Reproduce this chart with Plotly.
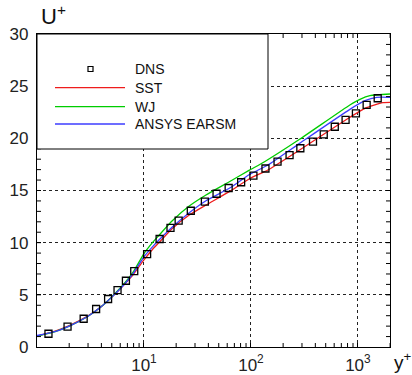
import plotly.graph_objects as go

# ---- data ----
dns_y = [1.28, 1.93, 2.73, 3.57, 4.62, 5.66, 6.78, 8.11, 10.7, 14.0, 17.7, 21.1,
         27.4, 37.1, 47.7, 61.9, 81.0, 105.5, 136.7, 177.3, 229.7, 289.6, 380.4,
         479.3, 608, 767, 958, 1207, 1531]
dns_u = [1.27, 1.95, 2.71, 3.64, 4.60, 5.46, 6.35, 7.28, 8.91, 10.35, 11.41, 12.12,
         13.06, 13.93, 14.69, 15.24, 15.79, 16.42, 17.11, 17.76, 18.40, 19.05, 19.68,
         20.37, 21.11, 21.76, 22.40, 23.20, 23.84]

sst_y = [1, 1.5, 2, 3, 4, 5, 6, 7, 8, 10, 12, 13.8, 18.4, 26.5, 38.0, 62.8, 96.8, 144,
         285, 841, 1164, 1707, 1995]
sst_u = [1.05, 1.55, 2.05, 2.98, 3.88, 4.78, 5.58, 6.32, 7.0, 8.35, 9.35, 10.0, 11.35,
         12.65, 13.61, 14.89, 16.13, 16.97, 18.88, 22.02, 22.88, 23.42, 23.45]

wj_y = [1, 1.5, 2, 3, 4, 5, 6, 7, 8, 10, 12, 13.8, 18.4, 26.5, 38.0, 62.8, 96.8, 134,
        285, 841, 1045, 1297, 1995]
wj_u = [1.05, 1.5, 2.0, 2.95, 3.88, 4.8, 5.65, 6.45, 7.25, 8.95, 10.0, 10.7, 12.1,
        13.51, 14.57, 15.84, 16.95, 17.76, 19.91, 23.20, 23.74, 24.09, 24.25]

earsm_y = [1, 1.5, 2, 3, 4, 5, 6, 7, 8, 10, 12, 13.8, 18.4, 26.5, 38.0, 62.8, 96.8, 144,
           285, 841, 1164, 1499, 1995]
earsm_u = [1.1, 1.5, 2.0, 2.95, 3.88, 4.78, 5.58, 6.35, 7.1, 8.65, 9.6, 10.25, 11.5,
           12.87, 14.02, 15.21, 16.53, 17.44, 19.52, 22.78, 23.61, 23.93, 23.93]

series_names = ["DNS", "SST", "WJ", "ANSYS EARSM"]
line_colors = ["#ee1c1c", "#00cc00", "#3c3cff"]

x_tickvals = [10, 100, 1000]
x_ticktext = ["10<sup>1</sup>", "10<sup>2</sup>", "10<sup>3</sup>"]
x_minor = [m * 10 ** e for e in range(0, 4) for m in range(2, 10) if m * 10 ** e <= 2000]
y_minor = list(range(1, 30))

FONT = "Liberation Sans, Arial, sans-serif"

fig = go.Figure()
for (xs, ys), name, col in zip([(sst_y, sst_u), (wj_y, wj_u), (earsm_y, earsm_u)],
                               series_names[1:], line_colors):
    fig.add_trace(go.Scatter(x=xs, y=ys, mode="lines", name=name,
                             line=dict(color=col, width=1.3, shape="spline", smoothing=0.5),
                             showlegend=False))
fig.add_trace(go.Scatter(x=dns_y, y=dns_u, mode="markers", name=series_names[0],
                         marker=dict(symbol="square-open", size=7, color="black",
                                     line=dict(width=1.3, color="black")),
                         showlegend=False))

W, H = 412, 375
ml, mr, mt, mb = 37, 22, 34, 28
pw, ph = W - ml - mr, H - mt - mb


def px(xp):
    return (xp - ml) / pw


def py(yp):
    return (H - mb - yp) / ph


shapes = []
# minor tick marks (inside, on all four sides)
tl = 4
for v in y_minor:
    shapes.append(dict(type="line", xref="paper", yref="y", x0=0, x1=tl / pw, y0=v, y1=v,
                       line=dict(color="black", width=1)))
    shapes.append(dict(type="line", xref="paper", yref="y", x0=1 - tl / pw, x1=1, y0=v, y1=v,
                       line=dict(color="black", width=1)))
for v in x_minor:
    shapes.append(dict(type="line", xref="x", yref="paper", x0=v, x1=v, y0=0, y1=tl / ph,
                       line=dict(color="black", width=1)))
    shapes.append(dict(type="line", xref="x", yref="paper", x0=v, x1=v, y0=1 - tl / ph, y1=1,
                       line=dict(color="black", width=1)))

# legend box
shapes.append(dict(type="rect", xref="paper", yref="paper", x0=0, x1=px(268), y0=py(149), y1=1,
                   fillcolor="white", line=dict(color="black", width=1), layer="above"))
annotations = []
entry_y = [69, 87.7, 106.7, 124]
shapes.append(dict(type="rect", xref="paper", yref="paper", x0=px(88), x1=px(93),
                   y0=py(entry_y[0] + 2.5), y1=py(entry_y[0] - 2.5),
                   line=dict(color="black", width=1.2), fillcolor="white", layer="above"))
for yy, col in zip(entry_y[1:], line_colors):
    shapes.append(dict(type="line", xref="paper", yref="paper", x0=px(55), x1=px(125),
                       y0=py(yy), y1=py(yy), line=dict(color=col, width=1.3), layer="above"))
for yy, name in zip(entry_y, series_names):
    annotations.append(dict(xref="paper", yref="paper", x=px(133), y=py(yy), text=name,
                            showarrow=False, xanchor="left", yanchor="middle",
                            font=dict(family=FONT, size=14, color="#111")))
annotations.append(dict(xref="paper", yref="paper", x=px(39), y=py(31), text="U<sup>+</sup>",
                        showarrow=False, xanchor="left", yanchor="bottom",
                        font=dict(family=FONT, size=22, color="#111")))
annotations.append(dict(xref="paper", yref="paper", x=px(392), y=py(361), text="y<sup>+</sup>",
                        showarrow=False, xanchor="left", yanchor="middle",
                        font=dict(family=FONT, size=19, color="#111")))

fig.update_layout(
    width=W, height=H, margin=dict(l=ml, r=mr, t=mt, b=mb, autoexpand=False),
    paper_bgcolor="white", plot_bgcolor="white",
    shapes=shapes, annotations=annotations, showlegend=False,
    font=dict(family=FONT, color="#222"),
)
fig.update_xaxes(type="log", range=[0, 3.3], tickvals=x_tickvals, ticktext=x_ticktext,
                 automargin=False,
                 ticks="inside", ticklen=4, tickcolor="black", showline=True, linecolor="black",
                 linewidth=1.2, mirror="ticks", showgrid=True, gridcolor="#222", griddash="dot",
                 gridwidth=1, zeroline=False, ticklabelstandoff=2,
                 tickfont=dict(size=17, family=FONT, color="#222"))
fig.update_yaxes(range=[0, 30], dtick=5, tick0=0, ticks="inside", ticklen=4, tickcolor="black",
                 automargin=False,
                 showline=True, linecolor="black", linewidth=1.2, mirror="ticks",
                 showgrid=True, gridcolor="#222", griddash="dot", gridwidth=1, zeroline=False,
                 tickfont=dict(size=17, family=FONT, color="#222"), ticklabelstandoff=4)

fig.write_html("out.html")
